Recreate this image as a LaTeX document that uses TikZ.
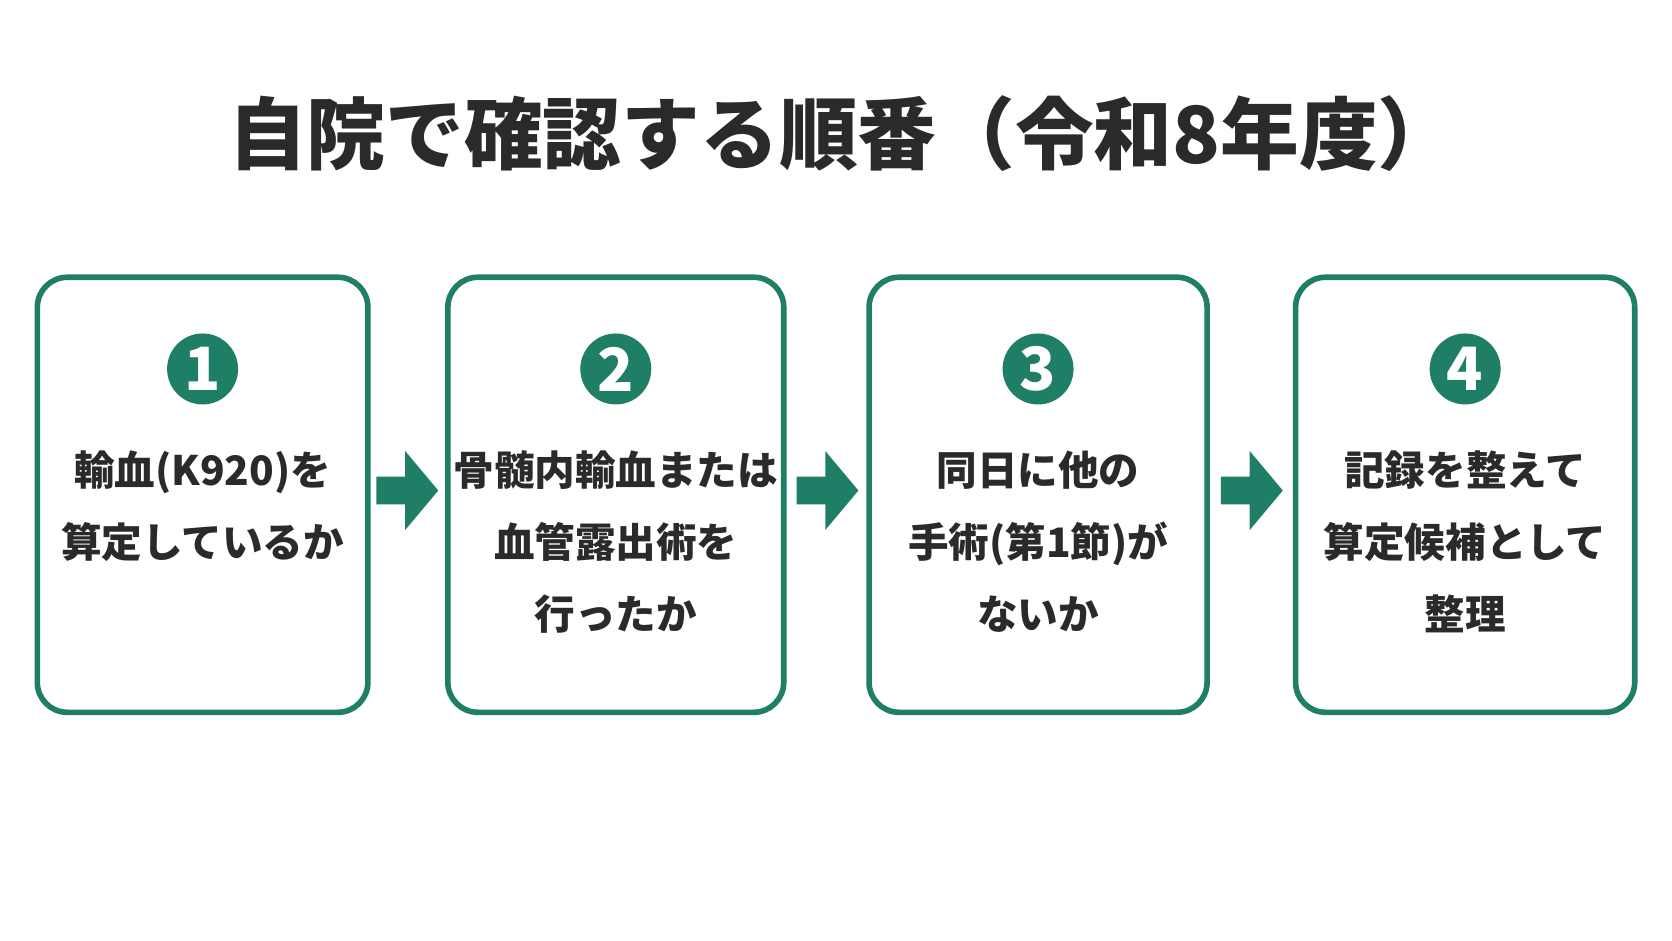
\documentclass[tikz,border=0pt]{standalone}
\usepackage{fontspec}
\setmainfont{Noto Sans CJK JP}
\begin{document}
\begin{tikzpicture}[x=0.01066cm,y=-0.01066cm]
\definecolor{grn}{HTML}{1E7F66}
\definecolor{ink}{HTML}{2A2A2A}
\tikzset{
 box/.style={draw=grn,line width=1.6pt,rounded corners=0.3cm,fill=white},
 num/.style={circle,fill=grn,minimum size=0.71cm,inner sep=0pt,text=white,font=\fontsize{17}{17}\selectfont\bfseries},
 txt/.style={text=ink,font=\fontsize{11.55}{20.5}\selectfont\bfseries,align=center,anchor=north},
 arr/.style={fill=grn}
}
\useasboundingbox (0,0) rectangle (1568,882);
\fill[white] (0,0) rectangle (1568,882);
\node[text=ink,font=\fontsize{22.4}{22.4}\selectfont\bfseries] (title) at (790,125) {自院で確認する順番（令和8年度）};
\foreach \i/\a/\b/\t in {1/35/345/{輸血(K920)を\\算定しているか},2/420/735/{骨髄内輸血または\\血管露出術を\\行ったか},3/815/1132/{同日に他の\\手術(第1節)が\\ないか},4/1215/1533/{記録を整えて\\算定候補として\\整理}}{
 \draw[box] (\a,260) rectangle (\b,668);
 \node[num] (n\i) at ({(\a+\b)/2},346) {\i};
 \node[txt] (t\i) at ({(\a+\b)/2},411) {\t};
}
\foreach \x in {353,747,1145}{
 \fill[arr] (\x,447) -- (\x+27,447) -- (\x+27,423) -- (\x+58,460) -- (\x+27,497) -- (\x+27,473) -- (\x,473) -- cycle;
}
\end{tikzpicture}
\end{document}
